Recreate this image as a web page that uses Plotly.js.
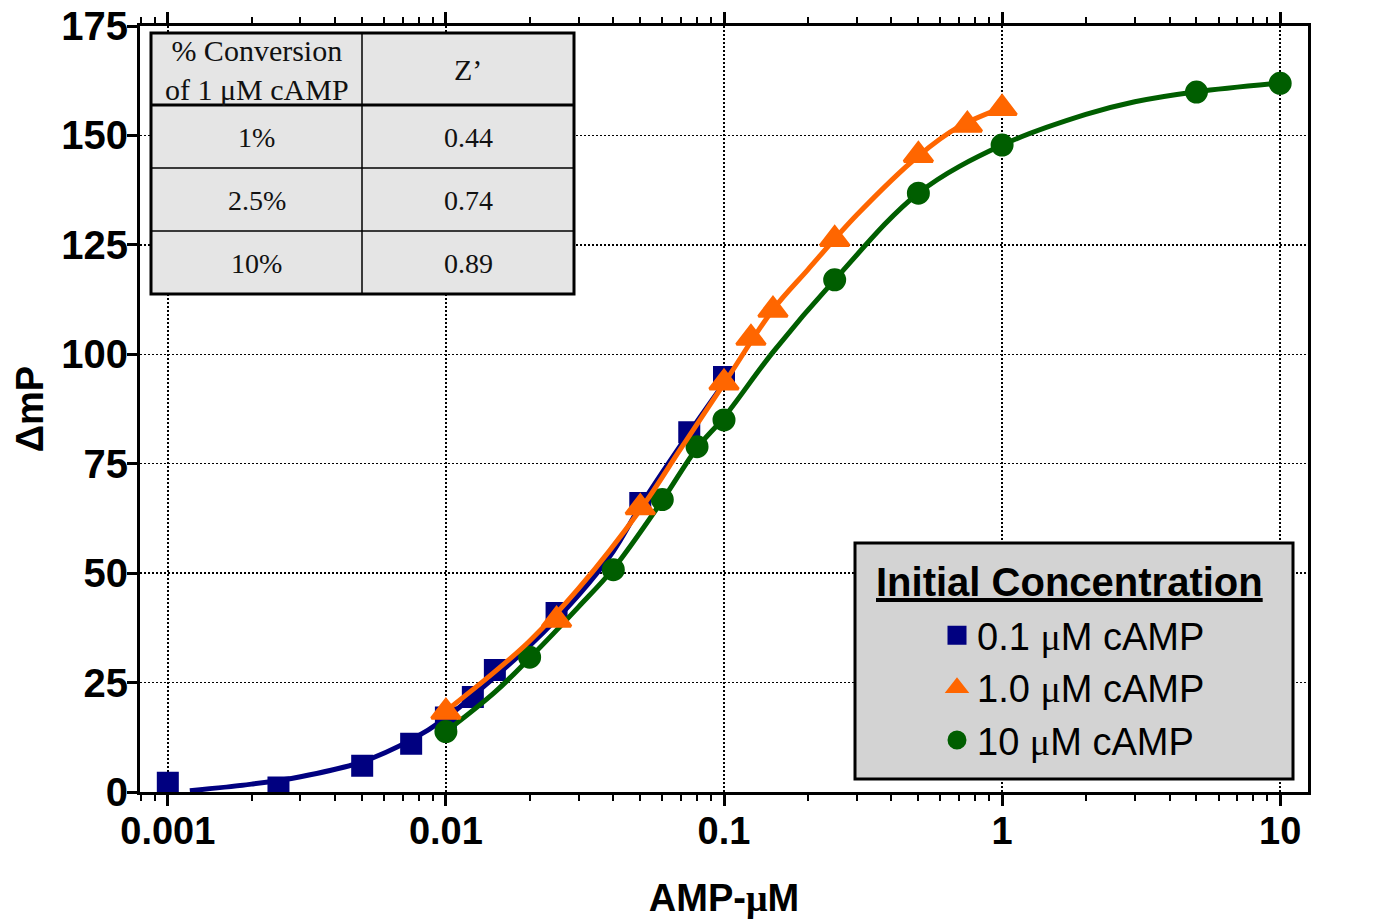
<!DOCTYPE html>
<html>
<head>
<meta charset="utf-8">
<script src="https://cdn.plot.ly/plotly-3.0.1.min.js"></script>
<style>html,body{margin:0;padding:0;background:#fff;}</style>
</head>
<body>
<div id="chart" style="width:1395px;height:922px;"></div>
<script>
// ---------------- data ----------------
const seriesNames = ['0.1 <span style="font-family:Liberation Serif">μ</span>M cAMP',
                     '1.0 <span style="font-family:Liberation Serif">μ</span>M cAMP',
                     '10 <span style="font-family:Liberation Serif">μ</span>M cAMP'];
const seriesColors = ['#000080', '#FF6600', '#005E00'];

// measured points
const blueX = [0.001, 0.0025, 0.005, 0.0075, 0.01, 0.0125, 0.015, 0.025, 0.05, 0.075, 0.1];
const blueY = [2.1, 1.0, 6.0, 11.0, 17.0, 21.7, 27.9, 40.9, 66.0, 82.2, 94.8];
const orangeX = [0.01, 0.025, 0.05, 0.1, 0.125, 0.15, 0.25, 0.5, 0.75, 1];
const orangeY = [18.3, 39.3, 65.0, 93.5, 103.7, 110.1, 126.3, 145.5, 152.4, 156.2];
const greenX = [0.01, 0.02, 0.04, 0.06, 0.08, 0.1, 0.25, 0.5, 1, 5, 10];
const greenY = [13.8, 30.8, 50.8, 66.8, 78.9, 85.0, 117.0, 136.8, 147.8, 159.9, 161.9];

// fitted curves
const blueFitX = [0.0012, 0.002, 0.003, 0.005, 0.0075, 0.01, 0.015, 0.02, 0.03, 0.04, 0.05, 0.07, 0.1];
const blueFitY = [0.3, 1.8, 3.5, 6.9, 11.9, 16.9, 26.3, 33.4, 45.0, 55.0, 65.3, 79.3, 93.4];
const orangeFitX = [0.01, 0.015, 0.02, 0.03, 0.05, 0.07, 0.1, 0.15, 0.2, 0.3, 0.5, 0.7, 1];
const orangeFitY = [18.5, 27.5, 34.5, 46.5, 64.5, 78.5, 93.3, 110.2, 119.3, 131.8, 145.3, 152.0, 156.3];
const greenFitX = [0.01, 0.015, 0.02, 0.03, 0.04, 0.06, 0.08, 0.1, 0.15, 0.25, 0.5, 1, 2, 3, 5, 10];
const greenFitY = [13.8, 22.8, 30.6, 42.3, 51.0, 66.6, 78.6, 85.6, 100.5, 117.0, 136.8, 147.8, 154.8, 157.7, 160.0, 162.0];

// axes
const xTickVals = [0.001, 0.01, 0.1, 1, 10];
const xTickText = ['0.001', '0.01', '0.1', '1', '10'];
const yTickVals = [0, 25, 50, 75, 100, 125, 150, 175];
const yTickText = ['0', '25', '50', '75', '100', '125', '150', '175'];
const xTitle = 'AMP-<span style="font-family:Liberation Serif">μ</span>M';
const yTitle = 'ΔmP';
const legendTitle = 'Initial Concentration';

// inset table
const tableHeader = ['% Conversion<br>of 1 μM cAMP', 'Z’'];
const tableCol1 = ['1%', '2.5%', '10%'];
const tableCol2 = ['0.44', '0.74', '0.89'];

// ---------------- layout helpers ----------------
const L = 140, R = 1308, T = 26, B = 792;
const px = v => (v - L) / (R - L);
const py = v => (B - v) / (B - T);

const minorX = [];
for (let e = -4; e <= 0; e++) {
  for (let d = 2; d <= 9; d++) {
    const v = d * Math.pow(10, e);
    if (v >= 0.0008 && v < 10) minorX.push(+v.toPrecision(3));
  }
}

const sans = 'Liberation Sans, Arial, sans-serif';
const serif = 'Liberation Serif, Times New Roman, serif';
const xTickFont = {family: sans, size: 38, color: '#000', weight: 'bold'};
const yTickFont = {family: sans, size: 40, color: '#000', weight: 'bold'};
const gridDash = '2px,2px';

const fitX = [blueFitX, orangeFitX, greenFitX];
const fitY = [blueFitY, orangeFitY, greenFitY];
const ptX = [blueX, orangeX, greenX];
const ptY = [blueY, orangeY, greenY];
const symbols = ['square', 'triangle-up', 'circle'];
const sizes = [19, 25, 20];
const drawOrder = [0, 2, 1];

const traces = [];
drawOrder.forEach(i => {
  traces.push({
    x: fitX[i], y: fitY[i], type: 'scatter', mode: 'lines',
    line: {color: seriesColors[i], width: 5, shape: 'spline', smoothing: 1},
    showlegend: false, hoverinfo: 'skip'
  });
  traces.push({
    x: ptX[i], y: ptY[i], type: 'scatter', mode: 'markers', name: seriesNames[i],
    marker: {color: seriesColors[i], symbol: symbols[i], size: sizes[i],
             line: {width: 3, color: seriesColors[i]}},
    legendrank: i + 1
  });
});

// table shapes
const shapes = [];
const tL = 151, tR = 574, tT = 33, tB = 294, tC = 362;
const rowLines = [105, 168, 231];
shapes.push({type: 'rect', xref: 'paper', yref: 'paper', x0: px(tL), x1: px(tR), y0: py(tB), y1: py(tT),
  fillcolor: '#e5e5e5', line: {color: '#000', width: 3}, layer: 'above'});
rowLines.forEach((yy, k) => {
  shapes.push({type: 'line', xref: 'paper', yref: 'paper', x0: px(tL), x1: px(tR), y0: py(yy), y1: py(yy),
    line: {color: '#000', width: k === 0 ? 3 : 1.5}, layer: 'above'});
});
shapes.push({type: 'line', xref: 'paper', yref: 'paper', x0: px(tC), x1: px(tC), y0: py(tB), y1: py(tT),
  line: {color: '#000', width: 1.5}, layer: 'above'});
// legend box
shapes.push({type: 'rect', xref: 'paper', yref: 'paper', x0: px(855), x1: px(1293), y0: py(779), y1: py(543),
  fillcolor: '#d3d3d3', line: {color: '#000', width: 3}, layer: 'above'});

// annotations
const annotations = [];
const c1 = (tL + tC) / 2, c2 = (tC + tR) / 2;
const headFont = {family: serif, size: 30, color: '#111'};
const tableFont = {family: serif, size: 28, color: '#111'};
annotations.push({xref: 'paper', yref: 'paper', x: px(c1), y: py(70), text: tableHeader[0], showarrow: false,
  xanchor: 'center', yanchor: 'middle', font: headFont});
annotations.push({xref: 'paper', yref: 'paper', x: px(c2), y: py(70), text: tableHeader[1], showarrow: false,
  xanchor: 'center', yanchor: 'middle', font: headFont});
const rowCenters = [137, 200, 263];
tableCol1.forEach((t, k) => {
  annotations.push({xref: 'paper', yref: 'paper', x: px(c1), y: py(rowCenters[k]), text: t, showarrow: false,
    xanchor: 'center', yanchor: 'middle', font: tableFont});
  annotations.push({xref: 'paper', yref: 'paper', x: px(c2), y: py(rowCenters[k]), text: tableCol2[k], showarrow: false,
    xanchor: 'center', yanchor: 'middle', font: tableFont});
});
annotations.push({xref: 'paper', yref: 'paper', x: px(1069), y: py(582), text: '<u>' + legendTitle + '</u>',
  showarrow: false, xanchor: 'center', yanchor: 'middle',
  font: {family: sans, size: 40, color: '#000', weight: 'bold'}});

const layout = {
  width: 1395, height: 922,
  margin: {l: L, r: 1395 - R, t: T, b: 922 - B, pad: 0},
  paper_bgcolor: '#fff', plot_bgcolor: '#fff',
  showlegend: true,
  legend: {
    x: px(937), xanchor: 'left', y: py(604), yanchor: 'top',
    bgcolor: 'rgba(0,0,0,0)', borderwidth: 0,
    font: {family: sans, size: 38, color: '#000'},
    traceorder: 'normal'
  },
  xaxis: {
    type: 'log', range: [-3.1, 1.1],
    tickmode: 'array', tickvals: xTickVals, ticktext: xTickText,
    ticks: 'outside', ticklen: 11, tickwidth: 3, tickcolor: '#000',
    showline: true, linewidth: 3, linecolor: '#000', mirror: 'ticks',
    showgrid: true, gridcolor: '#000', gridwidth: 1.5, griddash: gridDash,
    zeroline: false, tickfont: xTickFont, automargin: false, ticklabelstandoff: -8,
    minor: {tickmode: 'array', tickvals: minorX, ticks: 'outside', ticklen: 6, tickwidth: 2,
            tickcolor: '#000', showgrid: false},
    title: {text: xTitle, font: {family: sans, size: 38, color: '#000', weight: 'bold'}, standoff: 34}
  },
  yaxis: {
    range: [0, 175], tickmode: 'array', tickvals: yTickVals, ticktext: yTickText,
    ticks: 'outside', ticklen: 10, tickwidth: 3, tickcolor: '#000',
    showline: true, linewidth: 3, linecolor: '#000', mirror: true,
    showgrid: true, gridcolor: '#000', gridwidth: 1.5, griddash: gridDash,
    zeroline: false, tickfont: yTickFont, automargin: false, ticklabelstandoff: -9,
    title: {text: yTitle, font: {family: sans, size: 38, color: '#000', weight: 'bold'}, standoff: 6}
  },
  yaxis2: {
    overlaying: 'y', side: 'right', anchor: 'x',
    range: [0, 175], tickmode: 'array', tickvals: yTickVals, ticktext: yTickText,
    ticks: 'outside', ticklen: 10, tickwidth: 3, tickcolor: '#000',
    showline: false, showgrid: false, zeroline: false,
    tickfont: yTickFont, automargin: false, ticklabelstandoff: 8
  },
  shapes: shapes,
  annotations: annotations
};

Plotly.newPlot('chart', traces, layout, {displayModeBar: false, staticPlot: true});
</script>
</body>
</html>
